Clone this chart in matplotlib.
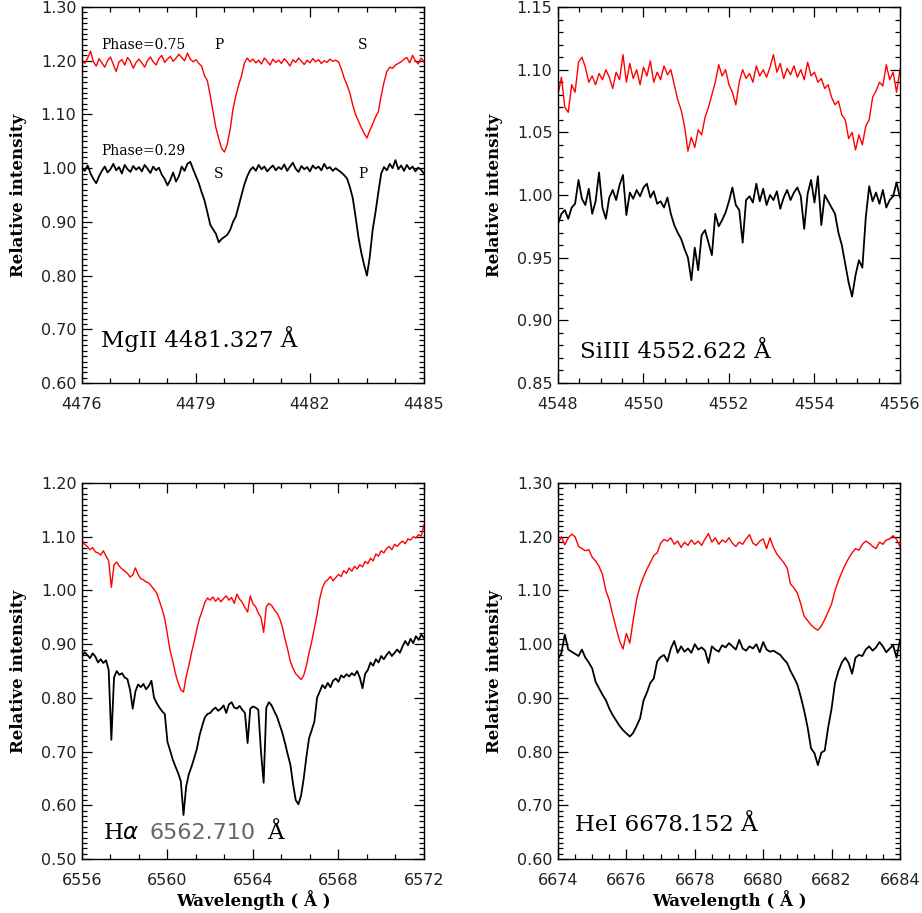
import matplotlib
matplotlib.use('Agg')
import matplotlib.pyplot as plt
import numpy as np
from matplotlib.ticker import MultipleLocator, FormatStrFormatter

# ---- MgII 4481 (4476-4485, 0.075 A step)
mg_red = [
    1.200, 1.195, 1.205, 1.218, 1.198, 1.190, 1.204, 1.196, 1.188, 1.200,
    1.207, 1.193, 1.180, 1.198, 1.202, 1.192, 1.206, 1.199, 1.186, 1.197,
    1.203, 1.196, 1.188, 1.200, 1.207, 1.198, 1.192, 1.204, 1.210, 1.197,
    1.203, 1.208, 1.199, 1.205, 1.212, 1.206, 1.200, 1.214, 1.203, 1.198,
    1.202, 1.195, 1.190, 1.172, 1.163, 1.135, 1.105, 1.075, 1.055, 1.037,
    1.030, 1.045, 1.072, 1.110, 1.135, 1.155, 1.172, 1.196, 1.205, 1.198,
    1.203, 1.196, 1.201, 1.194, 1.205, 1.199, 1.192, 1.203, 1.197, 1.201,
    1.195, 1.204, 1.198, 1.190, 1.202, 1.197, 1.205, 1.199, 1.193, 1.201,
    1.196, 1.204, 1.198, 1.202, 1.195, 1.200, 1.197, 1.203, 1.199, 1.201,
    1.198, 1.185, 1.168, 1.155, 1.140, 1.118, 1.100, 1.088, 1.076, 1.065,
    1.056, 1.070, 1.082, 1.095, 1.105, 1.135, 1.160, 1.180, 1.188, 1.186,
    1.192, 1.195, 1.198, 1.203, 1.206, 1.196, 1.210, 1.200, 1.194, 1.205,
    1.198]
mg_black = [
    1.000, 0.995, 1.005, 0.990, 0.980, 0.972, 0.985, 0.995, 1.003, 0.992,
    0.998, 1.008, 0.996, 1.002, 0.990, 1.006, 0.998, 0.993, 1.004, 0.997,
    1.002, 0.994, 1.006, 0.999, 0.991, 1.003, 0.996, 1.001, 0.988, 0.980,
    0.968, 0.978, 0.992, 0.975, 0.985, 1.003, 0.995, 1.008, 1.012, 0.998,
    0.985, 0.972, 0.955, 0.940, 0.918, 0.895, 0.886, 0.878, 0.862, 0.868,
    0.872, 0.876, 0.885, 0.900, 0.910, 0.930, 0.950, 0.970, 0.985, 0.996,
    1.002, 0.995, 1.006, 0.998, 1.003, 0.994, 1.000, 1.005, 0.996, 1.002,
    0.998, 1.007, 0.995, 1.003, 1.010, 0.999, 0.993, 1.004, 0.998, 1.002,
    0.994, 1.005, 0.999, 1.003, 0.996, 1.008, 0.999, 1.002, 0.995, 1.000,
    0.996, 0.992, 0.987, 0.981, 0.965, 0.945, 0.910, 0.872, 0.843, 0.820,
    0.800, 0.835, 0.885, 0.918, 0.955, 0.990, 1.002, 0.996, 1.008, 1.000,
    1.015, 0.998, 1.005, 0.995, 1.006, 0.998, 1.003, 0.994, 1.001, 0.997,
    0.990]

# ---- SiIII 4552 (4548-4556, 0.08 A step)
si_red = [
    1.080, 1.094, 1.070, 1.066, 1.088, 1.082, 1.106, 1.110, 1.102, 1.090,
    1.095, 1.088, 1.097, 1.092, 1.100, 1.094, 1.085, 1.098, 1.092, 1.112,
    1.090, 1.105, 1.093, 1.100, 1.088, 1.102, 1.095, 1.107, 1.090, 1.098,
    1.092, 1.103, 1.096, 1.100, 1.088, 1.076, 1.068, 1.055, 1.035, 1.046,
    1.038, 1.052, 1.048, 1.062, 1.070, 1.080, 1.090, 1.104, 1.095, 1.100,
    1.088, 1.082, 1.072, 1.090, 1.100, 1.093, 1.097, 1.090, 1.103, 1.095,
    1.100, 1.094, 1.102, 1.112, 1.098, 1.105, 1.093, 1.101, 1.096, 1.103,
    1.094, 1.100, 1.092, 1.106, 1.095, 1.098, 1.090, 1.093, 1.085, 1.088,
    1.078, 1.072, 1.075, 1.064, 1.060, 1.045, 1.050, 1.036, 1.048, 1.040,
    1.055, 1.060, 1.078, 1.083, 1.090, 1.087, 1.104, 1.092, 1.098, 1.082,
    1.100]
si_black = [
    0.977, 0.985, 0.988, 0.981, 0.990, 0.993, 1.012, 0.997, 0.992, 1.005,
    0.985, 0.995, 1.018, 0.990, 0.981, 0.998, 1.004, 0.996, 1.008, 1.016,
    0.984, 1.002, 0.997, 1.004, 0.999, 1.006, 1.009, 0.998, 1.003, 0.993,
    0.995, 0.990, 0.998, 0.985, 0.976, 0.970, 0.965, 0.957, 0.950, 0.932,
    0.958, 0.940, 0.968, 0.972, 0.962, 0.952, 0.985, 0.975, 0.980, 0.986,
    0.995, 1.006, 0.992, 0.988, 0.962, 0.996, 0.999, 0.994, 1.009, 0.995,
    1.005, 0.992, 1.000, 0.996, 1.003, 0.989, 0.998, 1.004, 0.996, 1.002,
    1.006, 0.999, 0.973, 1.001, 1.012, 0.994, 1.015, 0.976, 1.000, 0.995,
    0.990, 0.985, 0.970, 0.960, 0.945, 0.930, 0.919, 0.936, 0.948, 0.942,
    0.982, 1.007, 0.995, 1.002, 0.993, 1.004, 0.990, 0.996, 0.999, 1.010,
    0.998]

# ---- H alpha (6556-6572, 0.125 A step)
ha_red = [
    1.094, 1.086, 1.082, 1.076, 1.080, 1.072, 1.070, 1.066, 1.074, 1.064,
    1.055, 1.006, 1.048, 1.053, 1.045, 1.040, 1.036, 1.032, 1.025, 1.029,
    1.042, 1.030, 1.022, 1.020, 1.016, 1.014, 1.008, 1.002, 0.995, 0.980,
    0.965, 0.947, 0.918, 0.888, 0.868, 0.845, 0.828, 0.815, 0.811, 0.840,
    0.860, 0.884, 0.905, 0.928, 0.948, 0.962, 0.978, 0.986, 0.982, 0.988,
    0.980, 0.986, 0.979, 0.985, 0.990, 0.982, 0.987, 0.976, 0.993, 0.984,
    0.978, 0.968, 0.960, 0.990, 0.975, 0.970, 0.958, 0.950, 0.922, 0.970,
    0.976, 0.972, 0.964, 0.958, 0.948, 0.932, 0.910, 0.890, 0.868, 0.855,
    0.845, 0.840, 0.834, 0.842, 0.860, 0.884, 0.905, 0.930, 0.955, 0.985,
    1.005, 1.016, 1.020, 1.026, 1.018, 1.024, 1.030, 1.026, 1.037, 1.032,
    1.042, 1.036, 1.045, 1.040, 1.048, 1.044, 1.054, 1.050, 1.060, 1.055,
    1.068, 1.064, 1.074, 1.070, 1.078, 1.082, 1.076, 1.086, 1.082, 1.088,
    1.092, 1.087, 1.096, 1.094, 1.100, 1.098, 1.104, 1.101, 1.122]
ha_black = [
    0.878, 0.885, 0.880, 0.874, 0.883, 0.877, 0.866, 0.872, 0.865, 0.870,
    0.852, 0.722, 0.838, 0.850, 0.843, 0.846, 0.838, 0.835, 0.815, 0.780,
    0.812, 0.825, 0.820, 0.826, 0.816, 0.822, 0.832, 0.800, 0.790, 0.782,
    0.775, 0.770, 0.718, 0.702, 0.685, 0.672, 0.660, 0.645, 0.582, 0.635,
    0.658, 0.672, 0.688, 0.705, 0.730, 0.748, 0.764, 0.770, 0.772, 0.778,
    0.782, 0.776, 0.780, 0.786, 0.772, 0.788, 0.792, 0.782, 0.780, 0.785,
    0.778, 0.772, 0.716, 0.780, 0.784, 0.782, 0.778, 0.700, 0.642, 0.782,
    0.792, 0.786, 0.775, 0.765, 0.750, 0.735, 0.716, 0.695, 0.676, 0.640,
    0.610, 0.602, 0.618, 0.650, 0.690, 0.725, 0.740, 0.756, 0.800, 0.812,
    0.824, 0.818, 0.828, 0.820, 0.832, 0.836, 0.830, 0.842, 0.838, 0.844,
    0.840, 0.846, 0.842, 0.850, 0.838, 0.818, 0.845, 0.852, 0.866, 0.860,
    0.872, 0.866, 0.878, 0.872, 0.880, 0.886, 0.878, 0.884, 0.890, 0.884,
    0.896, 0.906, 0.898, 0.910, 0.902, 0.915, 0.908, 0.918, 0.912]

# ---- HeI 6678 (6674-6684, 0.1 A step)
he_red = [
    1.188, 1.200, 1.185, 1.198, 1.205, 1.200, 1.182, 1.178, 1.174, 1.176,
    1.162, 1.155, 1.145, 1.130, 1.100, 1.082, 1.055, 1.030, 1.006, 0.991,
    1.020, 1.002, 1.045, 1.084, 1.108, 1.125, 1.140, 1.152, 1.165, 1.170,
    1.188, 1.195, 1.192, 1.198, 1.186, 1.192, 1.180, 1.190, 1.184, 1.194,
    1.186, 1.192, 1.184, 1.196, 1.206, 1.190, 1.198, 1.186, 1.194, 1.190,
    1.198, 1.188, 1.182, 1.190, 1.186, 1.196, 1.204, 1.188, 1.184, 1.192,
    1.196, 1.178, 1.198, 1.180, 1.168, 1.160, 1.152, 1.142, 1.112, 1.105,
    1.095, 1.075, 1.052, 1.044, 1.036, 1.030, 1.026, 1.034, 1.046, 1.060,
    1.075, 1.100, 1.118, 1.134, 1.148, 1.160, 1.170, 1.178, 1.175, 1.186,
    1.192, 1.188, 1.182, 1.178, 1.190, 1.186, 1.194, 1.196, 1.202, 1.195,
    1.182]
he_black = [
    0.972, 0.984, 1.018, 0.990, 0.986, 0.982, 0.978, 0.990, 0.975, 0.966,
    0.955, 0.930, 0.918, 0.906, 0.896, 0.880, 0.868, 0.858, 0.848, 0.840,
    0.834, 0.828, 0.835, 0.848, 0.862, 0.895, 0.910, 0.928, 0.936, 0.968,
    0.976, 0.980, 0.968, 0.992, 1.006, 0.984, 0.996, 0.986, 0.992, 0.984,
    1.000, 0.990, 0.994, 0.988, 0.965, 0.996, 0.990, 0.986, 0.998, 0.994,
    1.002, 0.996, 0.990, 1.008, 0.992, 0.988, 0.996, 0.992, 1.000, 0.985,
    1.004, 0.990, 0.986, 0.988, 0.984, 0.980, 0.972, 0.965, 0.950, 0.938,
    0.925, 0.902, 0.876, 0.845, 0.806, 0.797, 0.775, 0.798, 0.802, 0.845,
    0.880, 0.928, 0.950, 0.966, 0.975, 0.965, 0.945, 0.975, 0.980, 0.978,
    0.990, 0.996, 0.988, 0.994, 1.004, 0.996, 0.985, 0.992, 0.998, 0.975,
    1.008]

panels = [
    dict(red=mg_red, black=mg_black, x0=4476, x1=4485, y0=0.60, y1=1.30,
         xmaj=3, xmin=0.75, ymaj=0.10, ymin=0.01),
    dict(red=si_red, black=si_black, x0=4548, x1=4556, y0=0.85, y1=1.15,
         xmaj=2, xmin=0.5, ymaj=0.05, ymin=0.01),
    dict(red=ha_red, black=ha_black, x0=6556, x1=6572, y0=0.50, y1=1.20,
         xmaj=4, xmin=4/3, ymaj=0.10, ymin=0.01),
    dict(red=he_red, black=he_black, x0=6674, x1=6684, y0=0.60, y1=1.30,
         xmaj=2, xmin=0.5, ymaj=0.10, ymin=0.01),
]
rects = [[0.0889, 0.5805, 0.3709, 0.4118], [0.6052, 0.5805, 0.3709, 0.4118],
         [0.0889, 0.0591, 0.3709, 0.4118], [0.6052, 0.0591, 0.3709, 0.4118]]

serif = 'DejaVu Serif'
fig = plt.figure(figsize=(9.22, 9.13), dpi=100)
axes = []
for k, (p, r) in enumerate(zip(panels, rects)):
    ax = fig.add_axes(r)
    wl_r = np.linspace(p['x0'], p['x1'], len(p['red']))
    wl_b = np.linspace(p['x0'], p['x1'], len(p['black']))
    ax.plot(wl_r, p['red'], color='#ff0000', lw=1.0)
    ax.plot(wl_b, p['black'], color='black', lw=1.3)
    ax.set_xlim(p['x0'], p['x1'])
    ax.set_ylim(p['y0'], p['y1'])
    ax.xaxis.set_major_locator(MultipleLocator(p['xmaj']))
    ax.xaxis.set_minor_locator(MultipleLocator(p['xmin']))
    ax.yaxis.set_major_locator(MultipleLocator(p['ymaj']))
    ax.yaxis.set_minor_locator(MultipleLocator(p['ymin']))
    ax.yaxis.set_major_formatter(FormatStrFormatter('%.2f'))
    ax.xaxis.set_major_formatter(FormatStrFormatter('%d'))
    ax.tick_params(which='both', direction='in', top=True, right=True,
                   labelsize=11.5, labelcolor='#222222', width=0.9)
    ax.tick_params(which='major', length=7)
    ax.tick_params(which='minor', length=3.5)
    ax.tick_params(axis='x', pad=10)
    ax.tick_params(axis='y', pad=4)
    for s in ax.spines.values():
        s.set_linewidth(1.0)
    ax.set_ylabel('Relative intensity', family=serif, fontweight='bold',
                  fontsize=12, va='center')
    ax.yaxis.set_label_coords(-0.187, 0.5)
    if k >= 2:
        ax.set_xlabel('Wavelength ( Å )', family=serif, fontweight='bold',
                      fontsize=12, va='center')
        ax.xaxis.set_label_coords(0.5, -0.109)
    axes.append(ax)

ax1, ax2, ax3, ax4 = axes
# phase annotations
ax1.text(4476.5, 1.229, 'Phase=0.75', family=serif, fontsize=10, va='center')
ax1.text(4479.6, 1.229, 'P', family=serif, fontsize=10, va='center', ha='center')
ax1.text(4483.39, 1.229, 'S', family=serif, fontsize=10, va='center', ha='center')
ax1.text(4476.5, 1.032, 'Phase=0.29', family=serif, fontsize=10, va='center')
ax1.text(4479.6, 0.989, 'S', family=serif, fontsize=10, va='center', ha='center')
ax1.text(4483.39, 0.990, 'P', family=serif, fontsize=10, va='center', ha='center')

# line identifications
ax1.text(4476.5, 0.682, 'MgII 4481.327 Å', family=serif, fontsize=16.5, va='center')
ax2.text(4548.51, 0.875, 'SiIII 4552.622 Å', family=serif, fontsize=16.5, va='center')
ax4.text(6674.5, 0.663, 'HeI 6678.152 Å', family=serif, fontsize=16.5, va='center')
ax3.text(6556.98, 0.548, 'H$\\alpha$', family=serif, fontsize=16.5, va='center')
ax3.text(6559.18, 0.548, '6562.710', family='DejaVu Sans', fontsize=16,
         va='center', color='#666666')
ax3.text(6564.65, 0.548, 'Å', family=serif, fontsize=16.5, va='center')

fig.savefig('out.png', dpi=100)
